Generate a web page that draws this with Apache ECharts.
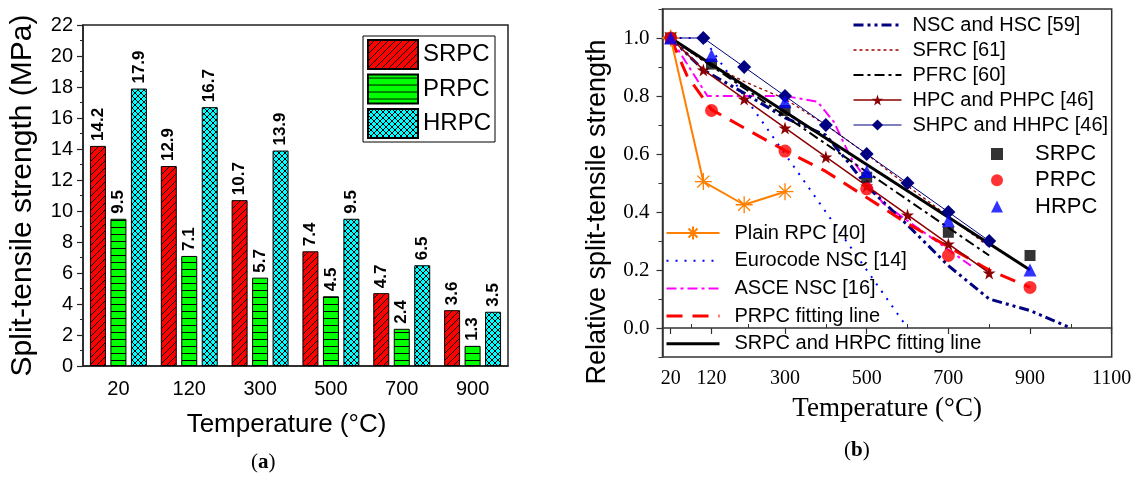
<!DOCTYPE html>
<html>
<head>
<meta charset="utf-8">
<script src="https://cdn.jsdelivr.net/npm/echarts@6/dist/echarts.min.js"></script>
<style>
  html, body { margin: 0; padding: 0; background: #fff; }
  #wrap { position: relative; width: 1140px; height: 482px; }
  #chartA { position: absolute; left: 0; top: 0; width: 560px; height: 482px; }
  #chartB { position: absolute; left: 560px; top: 0; width: 580px; height: 482px; }
</style>
</head>
<body>
<div id="wrap"><div id="chartA"></div><div id="chartB"></div></div>
<script>
// ---- (a) split-tensile strength, MPa ----
const temperatures = ['20', '120', '300', '500', '700', '900'];
const srpcStrength = [14.2, 12.9, 10.7, 7.4, 4.7, 3.6];
const prpcStrength = [9.5, 7.1, 5.7, 4.5, 2.4, 1.3];
const hrpcStrength = [17.9, 16.7, 13.9, 9.5, 6.5, 3.5];

// ---- (b) relative split-tensile strength ----
const testTemps = [20, 120, 300, 500, 700, 900];
const relSRPC = [1.00, 0.91, 0.75, 0.52, 0.33, 0.25];
const relPRPC = [1.00, 0.75, 0.61, 0.48, 0.25, 0.14];
const relHRPC = [1.00, 0.94, 0.78, 0.54, 0.37, 0.20];

// [temperature, relative strength]
const nscHsc = [[20, 1], [100, 0.89], [200, 0.81], [300, 0.725], [400, 0.665], [450, 0.58], [500, 0.49], [600, 0.355], [700, 0.215], [800, 0.1], [900, 0.06], [1000, 0]];
const sfrc = [[20, 1], [100, 0.92], [200, 0.85], [300, 0.79], [400, 0.7], [500, 0.6], [600, 0.49], [700, 0.385], [800, 0.28]];
const pfrc = [[20, 1], [200, 0.827], [400, 0.635], [600, 0.442], [800, 0.25]];
const hpcPhpc = [[20, 1], [100, 0.89], [200, 0.79], [300, 0.69], [400, 0.59], [500, 0.49], [600, 0.39], [700, 0.29], [800, 0.19]];
const shpcHhpc = [[20, 1], [100, 1], [200, 0.9], [300, 0.8], [400, 0.7], [500, 0.6], [600, 0.5], [700, 0.4], [800, 0.3]];
const plainRPC = [[20, 1], [100, 0.505], [200, 0.425], [300, 0.47]];
const eurocodeNSC = [[20, 1], [100, 1], [600, 0]];
const asceNSC = [[20, 1], [110, 0.8], [300, 0.8], [380, 0.78], [420, 0.71], [460, 0.59], [540, 0.43], [640, 0.33], [755, 0.215]];
const prpcFit = [[20, 1], [60, 0.87], [120, 0.753], [200, 0.69], [300, 0.612], [400, 0.54], [500, 0.45], [600, 0.36], [700, 0.28], [800, 0.2], [900, 0.14]];
const srpcHrpcFit = [[20, 1], [900, 0.2]];

const xMajorTicks = [20, 120, 300, 500, 700, 900, 1100];
const xMinorTicks = [70, 210, 400, 600, 800, 1000];
const yMajorTicks = [0, 0.2, 0.4, 0.6, 0.8, 1.0];
const yMinorTicks = [-0.1, 0.1, 0.3, 0.5, 0.7, 0.9, 1.1];

const SANS = 'Liberation Sans, Arial, sans-serif';
const SERIF = 'Liberation Serif, Times New Roman, serif';

// hatched fills for the bars
function makePattern(bg, size, draw) {
  const c = document.createElement('canvas');
  c.width = size; c.height = size;
  const ctx = c.getContext('2d');
  ctx.fillStyle = bg;
  ctx.fillRect(0, 0, size, size);
  ctx.strokeStyle = '#000';
  ctx.lineWidth = 1;
  ctx.beginPath();
  draw(ctx, size);
  ctx.stroke();
  return { image: c, repeat: 'repeat' };
}
const diagFill = makePattern('#ff0000', 7, (ctx, s) => {
  ctx.moveTo(0, s); ctx.lineTo(s, 0);
  ctx.moveTo(-1, 1); ctx.lineTo(1, -1);
  ctx.moveTo(s - 1, s + 1); ctx.lineTo(s + 1, s - 1);
});
const horizFill = makePattern('#00ff00', 7, (ctx, s) => {
  ctx.moveTo(0, 3.5); ctx.lineTo(s, 3.5);
});
const crossFill = makePattern('#00ffff', 6, (ctx, s) => {
  ctx.moveTo(0, s); ctx.lineTo(s, 0);
  ctx.moveTo(0, 0); ctx.lineTo(s, s);
  ctx.moveTo(-1, 1); ctx.lineTo(1, -1);
  ctx.moveTo(s - 1, s + 1); ctx.lineTo(s + 1, s - 1);
  ctx.moveTo(-1, s - 1); ctx.lineTo(1, s + 1);
  ctx.moveTo(s - 1, -1); ctx.lineTo(s + 1, 1);
});

const barLabel = {
  show: true, position: 'top', rotate: 90, align: 'left', verticalAlign: 'middle',
  distance: 5, fontFamily: SANS, fontWeight: 'bold', fontSize: 17, color: '#000'
};
function barSeries(name, data, fill) {
  return {
    type: 'bar', name, data, barWidth: 16, barGap: '28%',
    itemStyle: { color: fill, borderColor: '#000', borderWidth: 1 },
    label: barLabel
  };
}

const chartA = echarts.init(document.getElementById('chartA'), null, { renderer: 'canvas' });
chartA.setOption({
  animation: false,
  backgroundColor: '#fff',
  grid: { left: 83, top: 25, width: 425, height: 341, show: true, borderColor: '#222', borderWidth: 1.5 },
  legend: {
    orient: 'vertical', left: 363, top: 36, padding: [3, 4, 3, 4],
    borderColor: '#000', borderWidth: 1, itemWidth: 50, itemHeight: 29, itemGap: 3.5,
    icon: 'rect',
    textStyle: { fontFamily: SANS, fontSize: 24, color: '#000' },
    data: ['SRPC', 'PRPC', 'HRPC']
  },
  xAxis: {
    type: 'category', data: temperatures,
    name: 'Temperature (\u00B0C)', nameLocation: 'middle', nameGap: 46,
    nameTextStyle: { fontFamily: SANS, fontSize: 26, color: '#000', padding: [0, 18, 0, 0] },
    axisLine: { lineStyle: { color: '#222', width: 1.5 } },
    axisTick: { inside: false, length: 5, lineStyle: { color: '#222', width: 1.2 } },
    axisLabel: { fontFamily: SANS, fontSize: 20, color: '#000', margin: 13 }
  },
  yAxis: {
    type: 'value', min: 0, max: 22, interval: 2,
    name: 'Split-tensile strength (MPa)', nameLocation: 'middle', nameGap: 45,
    nameTextStyle: { fontFamily: SANS, fontSize: 30, color: '#000' },
    axisLine: { show: true, lineStyle: { color: '#222', width: 1.5 } },
    axisTick: { show: true, length: 6, lineStyle: { color: '#222', width: 1.2 } },
    minorTick: { show: true, splitNumber: 2, length: 3, lineStyle: { color: '#222', width: 1 } },
    splitLine: { show: false },
    axisLabel: { fontFamily: SANS, fontSize: 20, color: '#000', margin: 10 }
  },
  graphic: [{
    type: 'text', left: 251, top: 452,
    style: {
      text: '{p|(}{b|a}{p|)}',
      rich: {
        p: { fontFamily: SERIF, fontSize: 21, fill: '#000' },
        b: { fontFamily: SERIF, fontSize: 21, fontWeight: 'bold', fill: '#000' }
      }
    }
  }],
  series: [
    barSeries('SRPC', srpcStrength, diagFill),
    barSeries('PRPC', prpcStrength, horizFill),
    barSeries('HRPC', hrpcStrength, crossFill)
  ]
});

// ---- panel (b) ----
const starPath = 'path://M50,0L61,35L98,35L68,57L79,91L50,70L21,91L32,57L2,35L39,35Z';
const asteriskPath = 'path://M0,10L20,10M10,0L10,20M3,3L17,17M17,3L3,17';

function lineSeries(name, data, color, width, type, extra) {
  return Object.assign({
    type: 'line', name, data, symbol: 'none', smooth: false,
    lineStyle: { color, width, type },
    itemStyle: { color },
    z: 2
  }, extra || {});
}
function pairs(xs, ys) { return xs.map((x, i) => [x, ys[i]]); }
// legend entry that shows only the line sample
function lineOnly(name) {
  return { name, itemStyle: { opacity: 0, color: 'rgba(0,0,0,0)', borderWidth: 0 } };
}

const chartB = echarts.init(document.getElementById('chartB'), null, { renderer: 'canvas' });
const legendText = { fontFamily: SANS, fontSize: 20, color: '#000', lineHeight: 20 };
chartB.setOption({
  animation: false,
  backgroundColor: '#fff',
  grid: { left: 102.5, top: 9, width: 449.2, height: 348, show: true, borderColor: '#333', borderWidth: 1.5 },
  legend: [
    {
      orient: 'vertical', left: 292, top: 15, padding: 0, itemGap: 5, itemWidth: 48, itemHeight: 14,
      lineStyle: { width: 'inherit' },
      textStyle: Object.assign({}, legendText, { padding: [0, 0, 0, 6] }),
      data: [lineOnly('NSC and HSC [59]'), lineOnly('SFRC [61]'), lineOnly('PFRC [60]'), 'HPC and PHPC [46]', 'SHPC and HHPC [46]']
    },
    {
      orient: 'vertical', left: 431, top: 143, padding: 0, itemGap: 4.3, itemWidth: 12, itemHeight: 12,
      textStyle: { fontFamily: SANS, fontSize: 22, color: '#000', lineHeight: 22, padding: [0, 0, 0, 27] },
      data: ['SRPC', 'PRPC', 'HRPC']
    },
    {
      orient: 'vertical', left: 105, top: 223, padding: 0, itemGap: 7.7, itemWidth: 53, itemHeight: 16,
      lineStyle: { width: 'inherit' },
      textStyle: Object.assign({}, legendText, { padding: [0, 0, 0, 10] }),
      data: ['Plain RPC [40]', lineOnly('Eurocode NSC [14]'), lineOnly('ASCE NSC [16]'), lineOnly('PRPC fitting line'), lineOnly('SRPC and HRPC fitting line')]
    }
  ],
  xAxis: [
    {
      type: 'value', min: 0, max: 1100,
      name: 'Temperature (\u00B0C)', nameLocation: 'middle', nameGap: 38,
      nameTextStyle: { fontFamily: SERIF, fontSize: 27, color: '#000' },
      axisLine: { lineStyle: { color: '#333', width: 1.5 } },
      axisTick: { show: true, length: 6, customValues: xMajorTicks, lineStyle: { color: '#333', width: 1.2 } },
      axisLabel: { customValues: xMajorTicks, formatter: v => String(v), fontFamily: SERIF, fontSize: 20, color: '#000', margin: 12 },
      splitLine: { show: false }
    },
    {
      type: 'value', min: 0, max: 1100, gridIndex: 0,
      axisLine: { show: false },
      axisTick: { show: true, length: 4, customValues: xMinorTicks, lineStyle: { color: '#333', width: 1 } },
      axisLabel: { show: false }, splitLine: { show: false }
    }
  ],
  yAxis: [
    {
      type: 'value', min: -0.1, max: 1.1,
      axisLine: { show: true, lineStyle: { color: '#333', width: 1.5 } },
      axisTick: { show: true, length: 6, customValues: yMajorTicks, lineStyle: { color: '#333', width: 1.2 } },
      axisLabel: { customValues: yMajorTicks, formatter: v => v.toFixed(1), fontFamily: SERIF, fontSize: 21, color: '#000', margin: 13 },
      splitLine: { show: false }
    },
    {
      type: 'value', min: -0.1, max: 1.1, position: 'left',
      axisLine: { show: false },
      axisTick: { show: true, length: 4, customValues: yMinorTicks, lineStyle: { color: '#333', width: 1 } },
      axisLabel: { show: false }, splitLine: { show: false }
    }
  ],
  graphic: [
    {
      type: 'text', x: 38, y: 212, rotation: Math.PI / 2,
      style: {
        text: 'Relative split-tensile strength', fontFamily: SANS, fontSize: 27, fill: '#000',
        align: 'center', verticalAlign: 'middle'
      }
    },
    {
      type: 'text', left: 284, top: 440,
      style: {
        text: '{p|(}{b|b}{p|)}',
        rich: {
          p: { fontFamily: SERIF, fontSize: 21, fill: '#000' },
          b: { fontFamily: SERIF, fontSize: 21, fontWeight: 'bold', fill: '#000' }
        }
      }
    }
  ],
  series: [
    lineSeries('Eurocode NSC [14]', eurocodeNSC, '#0000ff', 2, [2, 7]),
    lineSeries('ASCE NSC [16]', asceNSC, '#ff00ff', 2, [10, 4, 3, 4]),
    lineSeries('NSC and HSC [59]', nscHsc, '#000080', 3, [10, 4, 3, 4, 3, 4]),
    lineSeries('SFRC [61]', sfrc, '#a00000', 1.3, [3, 3]),
    lineSeries('PFRC [60]', pfrc, '#000000', 2, [10, 4, 3, 4]),
    lineSeries('PRPC fitting line', prpcFit, '#ff0000', 3, [16, 10]),
    lineSeries('SRPC and HRPC fitting line', srpcHrpcFit, '#000000', 3, 'solid'),
    lineSeries('HPC and PHPC [46]', hpcPhpc, '#8b0000', 1.5, 'solid', { symbol: starPath, symbolSize: 13, z: 3 }),
    lineSeries('SHPC and HHPC [46]', shpcHhpc, '#000080', 1, 'solid', { symbol: 'diamond', symbolSize: 14, z: 3 }),
    lineSeries('Plain RPC [40]', plainRPC, '#ff7f00', 2, 'solid', {
      symbol: asteriskPath, symbolSize: 17, z: 3,
      itemStyle: { color: 'rgba(0,0,0,0)', borderColor: '#ff7f00', borderWidth: 1.3 }
    }),
    { type: 'scatter', name: 'SRPC', data: pairs(testTemps, relSRPC), symbol: 'rect', symbolSize: 11, itemStyle: { color: '#000' }, z: 4 },
    { type: 'scatter', name: 'PRPC', data: pairs(testTemps, relPRPC), symbol: 'circle', symbolSize: 13, itemStyle: { color: '#ff0000' }, z: 4 },
    { type: 'scatter', name: 'HRPC', data: pairs(testTemps, relHRPC), symbol: 'triangle', symbolSize: 13, itemStyle: { color: '#0000ff' }, z: 4 }
  ]
});
</script>
</body>
</html>
